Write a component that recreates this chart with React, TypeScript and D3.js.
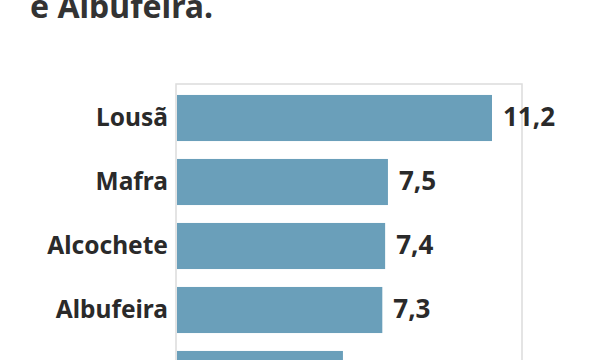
import React from "react";
import * as d3 from "d3";

const categories = ["Lousã", "Mafra", "Alcochete", "Albufeira", "Oeiras"];
const values = [11.2, 7.5, 7.4, 7.3, 5.9];
const titleText = "e Albufeira.";

const W = 600;
const H = 360;
const FONT = "'Noto Sans', 'Open Sans', sans-serif";

export default function App() {
  const x = d3.scaleLinear().domain([0, 11.2]).range([177, 492]);
  const y = d3
    .scaleBand<string>()
    .domain(categories)
    .range([86, 406])
    .paddingInner(0.28)
    .paddingOuter(0.14);
  const fmt = (v: number) => d3.format(".1f")(v).replace(".", ",");
  const bw = y.bandwidth();

  return (
    <div style={{ position: "absolute", left: 0, top: 0 }}>
      <svg width={W} height={H} style={{ display: "block", background: "#fff" }}>
        <text
          x={30}
          y={18}
          fontFamily={FONT}
          fontWeight={700}
          fontSize={32}
          fill="#333"
        >
          {titleText}
        </text>
        <path
          d={`M176,${H + 5}V84H522V${H + 5}`}
          fill="none"
          stroke="#dcdcdc"
          strokeWidth={1.5}
        />
        {categories.map((c, i) => {
          const yy = y(c) as number;
          return (
            <g key={c}>
              <rect
                x={x(0)}
                y={yy}
                width={x(values[i]) - x(0)}
                height={bw}
                fill="#6a9fba"
              />
              <text
                x={168}
                y={yy + bw / 2 + 8}
                textAnchor="end"
                fontFamily={FONT}
                fontWeight={700}
                fontSize={24.5}
                fill="#2a2a2a"
              >
                {c}
              </text>
              <text
                x={x(values[i]) + 11}
                y={yy + bw / 2 + 8}
                fontFamily={FONT}
                fontWeight={700}
                fontSize={26}
                fill="#2a2a2a"
              >
                {fmt(values[i])}
              </text>
            </g>
          );
        })}
      </svg>
    </div>
  );
}
